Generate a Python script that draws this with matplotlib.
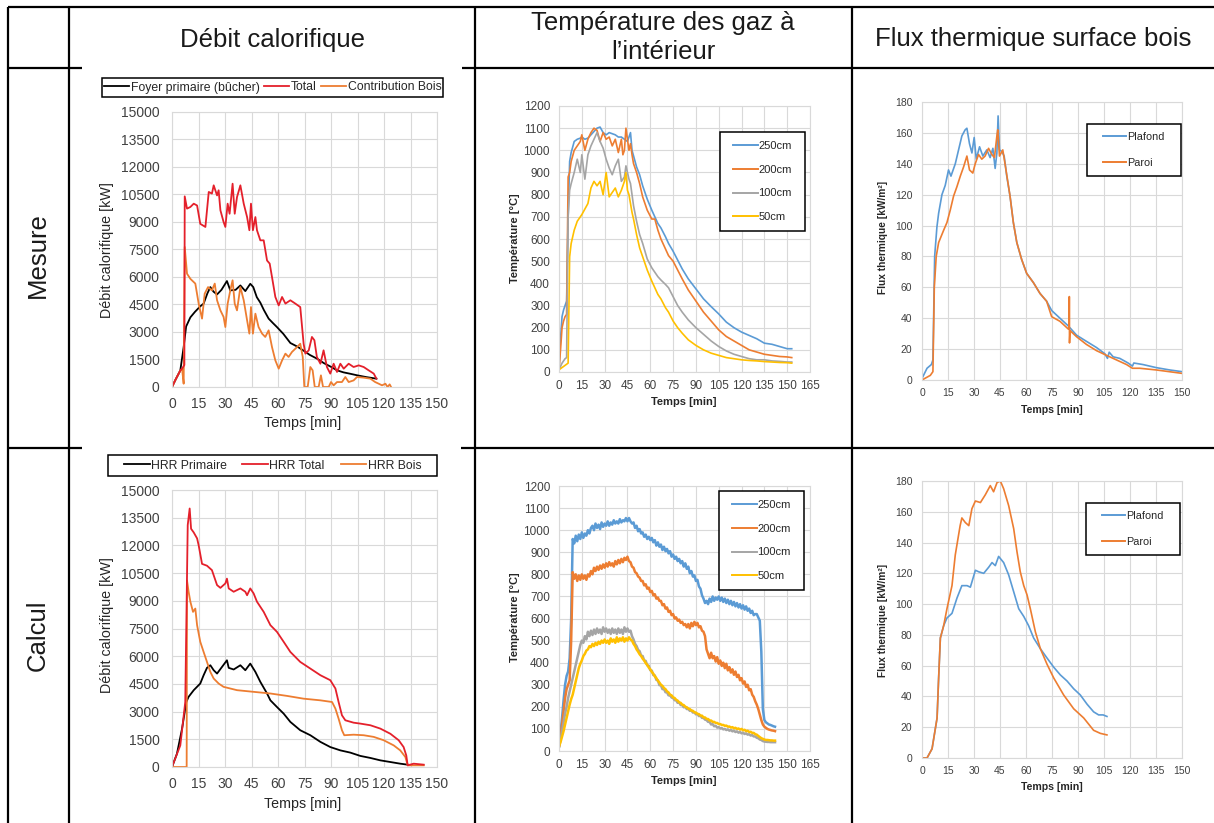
"""
Table of six fire-test charts: measured (Mesure) vs computed (Calcul) heat release,
gas temperatures and heat flux on the wood surface.
"""

import matplotlib

matplotlib.use("Agg")

import matplotlib.pyplot as plt
import numpy as np
from matplotlib.lines import Line2D
from matplotlib.patches import Rectangle

plt.rcParams["font.family"] = ["Liberation Sans", "DejaVu Sans"]

FIG_W, FIG_H = 1214, 823

BLUE = "#5B9BD5"
ORANGE = "#ED7D31"
GRAY = "#A5A5A5"
YELLOW = "#FFC000"
RED = "#E4202B"
GRID = "#D9D9D9"
TICK = "#404040"

# ---- Mesure : débit calorifique [kW] ----
mes_primaire_t = [0, 2, 4.7, 6.6, 8, 10.4, 13, 16, 17.9, 20, 21.7, 23.5, 25.5, 28, 31.1, 33, 36,
                  38.7, 41.5, 44.3, 46, 48, 50, 52, 54.7, 57, 59.4, 63, 67, 71, 75, 78, 82, 86,
                  90, 93.4, 97, 101, 104.7, 110, 115.7]
mes_primaire = [0, 400, 900, 2180, 3300, 3800, 4100, 4400, 4550, 5100, 5450, 5200, 5050, 5300,
                5780, 5270, 5300, 5540, 5230, 5630, 5450, 4900, 4600, 4200, 3730, 3500, 3270,
                2900, 2400, 2200, 1950, 1750, 1550, 1300, 1100, 910, 800, 720, 640, 540, 455]

mes_total_t = [0, 2, 4.7, 5.7, 7.0, 7.2, 8.5, 10.4, 12.3, 14.2, 16, 18.9, 20.8, 22.6, 23.6, 25.5,
               26.4, 27.4, 29.2, 30.2, 31.5, 32.6, 34.3, 35.5, 36.8, 38.7, 40.6, 42.5, 43.8,
               44.7, 45.8, 47.2, 48.1, 50, 51.9, 53.8, 55.3, 56.6, 58.5, 60.4, 62.3, 64.2, 67,
               69.8, 72.6, 74.5, 75.5, 77.4, 79.2, 80.6, 82, 84, 85.8, 87.7, 89.6, 91.5, 93.4,
               95.3, 97.2, 100, 102.8, 105.7, 108.5, 111.3, 114.2, 115.7]
mes_total = [0, 400, 900, 1000, 1200, 10400, 9730, 9820, 10000, 9900, 8900, 8730, 10640, 10550,
             11000, 10450, 10730, 9640, 9000, 8730, 10000, 9450, 11090, 9450, 10360, 11000,
             10000, 9270, 8550, 10000, 8550, 9270, 8550, 8000, 8000, 6900, 6730, 6000, 4910,
             4450, 4910, 4550, 4730, 4550, 4360, 2360, 1820, 2000, 2730, 2550, 1640, 1270, 2000,
             1090, 730, 1270, 820, 1270, 1000, 1270, 1090, 1180, 1090, 910, 730, 455]

mes_bois_t = [0, 2, 4.7, 5.7, 6.6, 7.2, 8.5, 10.4, 13.2, 15.1, 17, 18.5, 20.4, 22.6, 24.2, 25.5,
              27.4, 29.2, 30.2, 31.5, 33, 34.3, 35.5, 36.8, 38.7, 40.6, 42.5, 43.8, 44.7, 45.8,
              47.2, 49, 51, 52.8, 54.7, 56.6, 58.5, 60.4, 62.3, 64.2, 66, 67.9, 70.8, 72.6, 74,
              74.9, 76.8, 78.3, 79.6, 80.8, 83, 84.3, 85.5, 88.7, 90, 91.5, 93.4, 96.2, 98.1,
              100, 102.8, 104.7, 108.5, 112.3, 115, 117, 118.9, 120.8, 122, 123.2, 124]
mes_bois = [0, 400, 900, 1000, 180, 7640, 6180, 5900, 5640, 4545, 3730, 5090, 5450, 5270, 5640,
            4730, 4180, 3820, 3270, 4545, 5270, 5820, 4545, 4180, 5450, 4730, 3640, 2910, 4360,
            2910, 4000, 3270, 2910, 2730, 3090, 2180, 1450, 1000, 1450, 1820, 1640, 1910, 2180,
            2360, 1640, 0, 0, 1090, 910, 0, 0, 636, 0, 0, 270, 90, 270, 270, 545, 270, 360, 545,
            510, 455, 270, 180, 90, 180, 0, 145, 0]

# ---- Mesure : température des gaz [°C] ----
mes_temp_t = [0, 1, 2, 3, 4, 5, 6, 7, 8, 10, 12, 14, 15, 17, 19, 21, 23, 25, 27, 29, 31, 33, 35,
              37, 39, 41, 42, 43, 44, 45, 46, 47, 48, 49, 51, 53, 55, 58, 61, 63, 65, 67, 70,
              72, 75, 78, 81, 85, 90, 95, 100, 105, 110, 115, 120, 125, 130, 135, 140, 145, 150,
              153]
mes_250 = [10, 150, 250, 280, 300, 320, 700, 950, 990, 1040, 1050, 1055, 1060, 1050, 1055, 1070,
           1085, 1100, 1105, 1080, 1070, 1080, 1075, 1070, 1060, 1060, 1055, 1050, 1045, 1040,
           1060, 1080, 1000, 975, 925, 890, 840, 780, 730, 700, 670, 650, 610, 580, 545, 505,
           465, 420, 375, 330, 295, 262, 225, 200, 180, 165, 150, 130, 125, 115, 105, 105]
mes_200 = [10, 100, 200, 230, 250, 260, 880, 900, 950, 1000, 1020, 1040, 1070, 1000, 1050, 1080,
           1100, 1090, 1040, 1080, 1050, 1060, 1020, 1050, 990, 1050, 980, 1000, 1100, 1050,
           1000, 1030, 980, 940, 900, 850, 790, 730, 690, 690, 640, 600, 555, 525, 500, 460,
           420, 370, 320, 270, 230, 190, 160, 140, 120, 100, 90, 80, 75, 70, 68, 65]
mes_100 = [10, 25, 40, 50, 60, 65, 700, 820, 850, 900, 960, 900, 980, 870, 980, 1020, 1050,
           1080, 1040, 1010, 960, 920, 890, 930, 960, 860, 870, 880, 930, 900, 870, 850, 800,
           750, 680, 620, 580, 510, 470, 450, 430, 415, 395, 380, 340, 300, 270, 235, 200, 170,
           140, 115, 95, 80, 70, 60, 55, 55, 50, 48, 45, 45]
mes_50 = [10, 15, 20, 25, 30, 35, 40, 520, 580, 640, 680, 700, 710, 735, 760, 830, 860, 840,
          860, 800, 900, 790, 810, 830, 790, 820, 840, 860, 900, 820, 800, 760, 720, 690, 620,
          560, 520, 460, 410, 380, 350, 330, 290, 270, 230, 200, 175, 145, 120, 100, 85, 75, 65,
          60, 55, 52, 50, 47, 45, 43, 42, 40]

# ---- Mesure : flux thermique [kW/m²] ----
mes_plafond_t = [0, 2.9, 5.4, 6.3, 7.3, 8.6, 9.6, 11.5, 13.4, 15.3, 16.7, 19.2, 21.1, 23, 24.9,
                 25.9, 27.4, 28.8, 30.1, 31.3, 33.2, 35.1, 37.4, 39.3, 40.9, 42.2, 43.2, 43.9,
                 44.7, 46, 47.4, 48.9, 50.8, 52.7, 54.7, 57.5, 60.4, 64.3, 68.1, 71.9, 74.8,
                 79.6, 84.4, 89.2, 94.9, 100.7, 105.5, 107, 108, 110.3, 114.1, 118.9, 121.4,
                 122.2, 127.5, 135.2, 142.9, 150]
mes_plafond = [1, 7.6, 10, 13, 80, 99, 108, 120, 126, 136, 132, 140, 149, 158, 162, 163, 153,
               147, 157, 143, 151, 145, 149, 144, 150, 137, 147, 171, 149, 148, 145, 132, 119,
               102, 89, 78, 69, 63, 56, 51, 45, 40, 35, 29, 25, 21, 17, 14, 18, 15, 14, 11, 9,
               11, 10, 8, 6.5, 5.4]
mes_paroi_t = [0, 4.8, 6.3, 7.1, 8.2, 9.6, 12.5, 14.4, 16.3, 18.2, 20.1, 22.1, 24, 25.9, 27.4,
               29.3, 30.7, 32.6, 34.5, 36.4, 38.4, 40.3, 41.8, 43.2, 43.7, 44.7, 46.6, 47.9,
               50.8, 52.7, 54.7, 57.5, 60.4, 64.3, 68.1, 71.9, 74.8, 79.6, 84.4, 84.9, 85.0,
               85.1, 85.4, 89.2, 94.9, 100.7, 106.4, 112.2, 118, 121.4, 125.6, 135.2, 150]
mes_paroi = [0, 3, 5.4, 60, 80, 89, 97, 102, 110, 119, 125, 132, 138, 145, 136, 134, 140, 146,
             143, 145, 150, 146, 144, 158, 162, 145, 149, 140, 119, 102, 89, 78, 69, 63, 56, 51,
             41, 38, 33, 33, 54, 24, 32, 28, 23, 19, 16, 13, 10, 7.6, 7.6, 6.5, 4.3]

# ---- Calcul : débit calorifique [kW] ----
calc_primaire_t = [0, 2.8, 5.7, 8.1, 9.4, 12.3, 16, 17.9, 19.8, 21.7, 23.6, 25.5, 28.3, 31.1,
                   32.1, 34.9, 38.7, 41.5, 44.3, 47.2, 50, 53.8, 55.7, 59.4, 63.2, 67, 72.6,
                   78.3, 84, 89.6, 95.3, 100.9, 106.6, 112.3, 117.9, 123.6, 129.2, 133.4]
calc_primaire = [0, 720, 2080, 3520, 3800, 4160, 4520, 4970, 5370, 5510, 5240, 5060, 5420, 5780,
                 5370, 5280, 5510, 5240, 5600, 5150, 4610, 3980, 3610, 3250, 2890, 2440, 1990,
                 1720, 1360, 1080, 900, 780, 600, 490, 360, 270, 180, 126]
calc_total_t = [0, 2.8, 4.7, 7.5, 8.9, 10, 10.8, 12.3, 14.2, 15.1, 17, 19.8, 22.6, 25.5, 27.4,
                30.2, 31.1, 32.1, 34.9, 38.7, 41.5, 42.5, 44.3, 46.2, 48.1, 51.9, 55.7, 59.4,
                63.2, 67, 72.6, 78.3, 84, 89.6, 92.5, 94.3, 96.2, 98.1, 102.8, 106.6, 112.3,
                117.9, 123.6, 128.3, 131.1, 132.6, 133.4, 136.8, 142.5]
calc_total = [0, 700, 1170, 3520, 13100, 14000, 12900, 12700, 12380, 12000, 11000, 10900, 10660,
              9850, 9700, 9940, 10200, 9670, 9490, 9670, 9490, 9300, 9670, 9400, 8950, 8400,
              7680, 7320, 6780, 6230, 5690, 5330, 4970, 4700, 4250, 3520, 2800, 2530, 2400,
              2350, 2260, 2080, 1800, 1450, 1080, 630, 90, 180, 126]
calc_bois_t = [0, 8.3, 8.5, 9.4, 10.4, 11.9, 13.2, 14.2, 16, 17.9, 19.8, 21.7, 23.6, 26.4, 29.2,
               36.8, 46.2, 55.7, 65.1, 74.5, 84, 90.6, 92.5, 94.3, 96.2, 97.5, 102.8, 108.5,
               114.2, 119.8, 125.5, 129.2, 132.1, 133.4, 142.5]
calc_bois = [0, 0, 10100, 9490, 8950, 8400, 8580, 7680, 6780, 6230, 5690, 5150, 4790, 4520,
             4340, 4160, 4070, 3980, 3850, 3700, 3610, 3520, 3160, 2620, 1990, 1720, 1750, 1720,
             1630, 1450, 1170, 900, 540, 90, 90]

# ---- Calcul : température des gaz [°C], one value per minute ----
calc_temp_t = np.arange(0, 143)
calc_250 = [20, 80, 150, 230, 300, 340, 360, 420, 600, 960,
            940, 975, 950, 980, 960, 990, 965, 985, 975, 1000,
            985, 1010, 1020, 1000, 1030, 1010, 1025, 1005, 1035, 1015,
            1030, 1020, 1040, 1020, 1035, 1025, 1045, 1030, 1040, 1030,
            1050, 1035, 1045, 1040, 1055, 1040, 1055, 1040, 1030, 1035,
            1010, 1020, 995, 1005, 985, 990, 970, 980, 960, 970,
            955, 965, 945, 955, 930, 945, 925, 935, 910, 925,
            905, 915, 895, 905, 880, 890, 870, 880, 860, 870,
            850, 860, 835, 850, 825, 835, 805, 815, 790, 795,
            770, 775, 745, 735, 705, 690, 670, 680, 665, 690,
            675, 700, 680, 695, 685, 700, 680, 695, 675, 690,
            670, 685, 665, 680, 660, 675, 655, 670, 650, 665,
            645, 660, 640, 655, 635, 645, 625, 635, 615, 620,
            620, 605, 590, 450, 190, 140, 130, 125, 120, 118,
            115, 112, 110]
calc_200 = [20, 60, 120, 180, 240, 280, 300, 320, 500, 810,
            780, 800, 770, 795, 775, 800, 780, 795, 775, 800,
            790, 815, 800, 830, 815, 835, 820, 840, 825, 845,
            830, 850, 835, 855, 840, 850, 835, 860, 845, 865,
            850, 870, 855, 875, 865, 880, 860, 855, 835, 830,
            810, 805, 790, 785, 770, 770, 750, 755, 735, 740,
            720, 725, 705, 710, 690, 695, 680, 680, 660, 665,
            645, 650, 630, 635, 615, 620, 600, 605, 590, 595,
            580, 585, 570, 575, 560, 575, 555, 580, 565, 585,
            570, 580, 560, 565, 545, 540, 520, 460, 440, 420,
            445, 420, 430, 405, 425, 395, 410, 385, 400, 375,
            395, 365, 380, 355, 370, 345, 360, 335, 345, 320,
            330, 305, 315, 290, 300, 275, 280, 255, 245, 225,
            210, 190, 165, 140, 120, 110, 105, 100, 97, 95,
            93, 92, 90]
calc_100 = [20, 50, 90, 130, 170, 200, 240, 270, 300, 330,
            360, 390, 420, 450, 480, 500, 490, 520, 505, 540,
            520, 545, 525, 550, 530, 555, 535, 550, 530, 560,
            540, 555, 535, 550, 530, 555, 535, 550, 530, 555,
            535, 550, 530, 560, 540, 555, 540, 545, 520, 505,
            485, 475, 458, 452, 432, 430, 410, 408, 388, 386,
            366, 364, 344, 342, 322, 320, 298, 298, 280, 282,
            266, 266, 252, 254, 242, 240, 230, 230, 218, 220,
            208, 208, 198, 200, 190, 190, 182, 184, 174, 176,
            166, 168, 158, 160, 150, 150, 142, 140, 132, 132,
            120, 122, 112, 114, 106, 108, 102, 104, 98, 100,
            95, 98, 92, 95, 89, 92, 86, 89, 83, 86,
            80, 83, 77, 80, 74, 76, 70, 72, 66, 66,
            60, 58, 52, 50, 45, 43, 42, 41, 41, 40,
            40, 40, 40]
calc_50 = [20, 40, 65, 90, 120, 150, 180, 210, 235, 255,
           285, 315, 345, 375, 395, 410, 430, 440, 455, 460,
           475, 470, 485, 475, 490, 480, 495, 485, 500, 490,
           505, 490, 500, 485, 510, 495, 505, 490, 515, 495,
           510, 500, 515, 495, 510, 500, 515, 505, 500, 485,
           475, 460, 450, 438, 430, 418, 410, 398, 390, 378,
           370, 358, 350, 338, 330, 318, 310, 300, 295, 285,
           280, 270, 265, 255, 252, 243, 240, 232, 228, 220,
           218, 210, 208, 200, 198, 192, 190, 183, 182, 175,
           174, 168, 167, 160, 160, 152, 152, 145, 145, 138,
           138, 132, 132, 127, 127, 122, 122, 118, 118, 114,
           115, 110, 111, 106, 108, 103, 105, 100, 102, 97,
           100, 94, 96, 90, 92, 86, 87, 82, 82, 76,
           74, 68, 63, 58, 55, 52, 50, 50, 49, 48,
           48, 47, 47]

# ---- Calcul : flux thermique [kW/m²] ----
calc_plafond_t = [0, 2.9, 5.8, 8.7, 9.6, 10.6, 12.5, 14.4, 17.3, 20.2, 23, 26, 27.9, 30.8, 32.7,
                  35.6, 38.5, 40.4, 42.3, 44.2, 47.1, 50, 52.9, 55.8, 58.7, 61.5, 64.4, 68.3,
                  72.1, 76, 79.8, 83.7, 87.5, 91.3, 95.2, 99, 101.9, 104.5, 106.7]
calc_plafond = [0, 0, 6, 26, 52, 78, 86, 91, 94, 104, 112, 112, 111, 122, 121, 120, 124, 127,
                125, 131, 127, 119, 108, 97, 92, 86, 78, 71, 65, 59, 54, 50, 45, 41, 35, 30, 28,
                28, 27]
calc_paroi_t = [0, 2.9, 5.8, 8.7, 9.6, 10.6, 12.5, 14.4, 17.3, 19.2, 22, 23, 25, 27, 28.8, 30.8,
                33.7, 36.5, 39.4, 41.3, 43.3, 45.2, 47.1, 50, 52.9, 54.8, 56.7, 58.7, 60.6, 62.5,
                65.4, 68.3, 72.1, 76, 81.7, 87.5, 93.3, 99, 102.9, 106.7]
calc_paroi = [0, 0, 6, 26, 52, 78, 86, 97, 112, 132, 151, 156, 153, 151, 162, 167, 166, 171, 177,
              173, 179, 180, 175, 164, 149, 134, 121, 112, 106, 97, 82, 71, 61, 52, 41, 32, 26,
              18, 16, 15]

headers = ["Débit calorifique", "Température des gaz à", "l\u2019intérieur",
           "Flux thermique surface bois"]
row_labels = ["Mesure", "Calcul"]


def fx(px):
    return px / FIG_W


def fy(py):
    return 1 - py / FIG_H


def add_axes(fig, x0, y0, x1, y1):
    return fig.add_axes([fx(x0), fy(y1), (x1 - x0) / FIG_W, (y1 - y0) / FIG_H])


def style(ax, xmax, xstep, ymax, ystep, size, xpad, ypad):
    ax.set_xlim(0, xmax)
    ax.set_ylim(0, ymax)
    ax.set_xticks(np.arange(0, xmax + 1, xstep))
    ax.set_yticks(np.arange(0, ymax + 1, ystep))
    ax.grid(True, color=GRID, lw=0.8)
    ax.set_axisbelow(True)
    for s in ax.spines.values():
        s.set_color(GRID)
        s.set_linewidth(0.8)
    ax.tick_params(length=0, labelsize=size, colors=TICK)
    ax.tick_params(axis="x", pad=xpad)
    ax.tick_params(axis="y", pad=ypad)


def framed_legend(fig, handles, labels, box, ncol, size, **kw):
    x0, y0, x1, y1 = box
    fig.add_artist(Rectangle((fx(x0), fy(y1)), (x1 - x0) / FIG_W, (y1 - y0) / FIG_H,
                             transform=fig.transFigure, fc="white", ec="black", lw=1.1,
                             zorder=4))
    fig.legend(handles, labels, loc="center",
               bbox_to_anchor=(fx((x0 + x1) / 2), fy((y0 + y1) / 2)),
               ncol=ncol, frameon=False, fontsize=size, borderpad=0, borderaxespad=0,
               labelcolor="#262626", **kw)


def hline(fig, y, x0, x1):
    fig.add_artist(Line2D([fx(x0), fx(x1)], [fy(y), fy(y)], transform=fig.transFigure,
                          color="black", lw=1.6, solid_capstyle="butt"))


def vline(fig, x, y0, y1):
    fig.add_artist(Line2D([fx(x), fx(x)], [fy(y0), fy(y1)], transform=fig.transFigure,
                          color="black", lw=1.6, solid_capstyle="butt"))


def hrr_chart(fig, box, primaire, total, bois, leg_labels, leg_box, colspace,
              ylabel_y, xlabel_y):
    ax = add_axes(fig, *box)
    (l_prim,) = ax.plot(*primaire, color="black", lw=1.3)
    (l_bois,) = ax.plot(*bois, color=ORANGE, lw=1.3)
    (l_tot,) = ax.plot(*total, color=RED, lw=1.3)
    style(ax, 150, 15, 15000, 1500, 10, 7, 9)
    fig.text(fx(107), fy(ylabel_y), "Débit calorifique [kW]", rotation=90, fontsize=10.3,
             ha="center", va="center", color="#262626")
    fig.text(fx(303), fy(xlabel_y), "Temps [min]", fontsize=10.3, ha="center", va="center",
             color="#262626")
    framed_legend(fig, [l_prim, l_tot, l_bois], leg_labels, leg_box, 3, 8.8,
                  handlelength=2.1, handletextpad=0.1, columnspacing=colspace)


def temp_chart(fig, box, t_list, series, leg_box, ylabel_y, xlabel_y, lw):
    ax = add_axes(fig, *box)
    lines = []
    for t, v, c in zip(t_list, series, [BLUE, ORANGE, GRAY, YELLOW]):
        (ln,) = ax.plot(t, v, color=c, lw=lw)
        lines.append(ln)
    style(ax, 165, 15, 1200, 100, 8.5, 6, 6.5)
    fig.text(fx(515), fy(ylabel_y), "Température [°C]", rotation=90, fontsize=8,
             fontweight="bold", ha="center", va="center", color="#262626")
    fig.text(fx(684), fy(xlabel_y), "Temps [min]", fontsize=8, fontweight="bold",
             ha="center", va="center", color="#262626")
    handles = [Line2D([], [], color=ln.get_color(), lw=1.4) for ln in lines]
    framed_legend(fig, handles, ["250cm", "200cm", "100cm", "50cm"], leg_box, 1, 8,
                  handlelength=2.2, handletextpad=0.05, labelspacing=1.25)


def flux_chart(fig, box, series, leg_box, ylabel_y, xlabel_y):
    ax = add_axes(fig, *box)
    lines = []
    for t, v, c in series:
        (ln,) = ax.plot(t, v, color=c, lw=1.2)
        lines.append(ln)
    style(ax, 150, 15, 180, 20, 7.5, 5.5, 7)
    fig.text(fx(883), fy(ylabel_y), "Flux thermique [kW/m²]", rotation=90, fontsize=7.3,
             fontweight="bold", ha="center", va="center", color="#262626")
    fig.text(fx(1052), fy(xlabel_y), "Temps [min]", fontsize=7.6, fontweight="bold",
             ha="center", va="center", color="#262626")
    handles = [Line2D([], [], color=ln.get_color(), lw=1.4) for ln in lines]
    framed_legend(fig, handles, ["Plafond", "Paroi"], leg_box, 1, 7.8,
                  handlelength=2.1, handletextpad=0.15, labelspacing=1.45)


def main():
    fig = plt.figure(figsize=(FIG_W / 100, FIG_H / 100), dpi=100)

    # ---- Table grid ----
    hline(fig, 7, 8, FIG_W)
    hline(fig, 68, 8, 82)
    hline(fig, 68, 462, FIG_W)
    hline(fig, 448, 8, 82)
    hline(fig, 448, 461, FIG_W)
    for x in (8, 69, 475, 852):
        vline(fig, x, 7, FIG_H)

    head_kw = dict(fontsize=18.5, ha="center", va="baseline", color="#1a1a1a")
    fig.text(fx(272), fy(47), headers[0], **head_kw)
    fig.text(fx(663), fy(30), headers[1], **head_kw)
    fig.text(fx(663), fy(59), headers[2], **head_kw)
    fig.text(fx(1033), fy(46), headers[3], **head_kw)
    fig.text(fx(38), fy(255), row_labels[0], rotation=90, fontsize=18.5, ha="center",
             va="center", color="#1a1a1a")
    fig.text(fx(38), fy(635), row_labels[1], rotation=90, fontsize=18.5, ha="center",
             va="center", color="#1a1a1a")

    # ---- Mesure ----
    hrr_chart(fig, (172, 112, 437, 387),
              (mes_primaire_t, mes_primaire), (mes_total_t, mes_total),
              (mes_bois_t, mes_bois),
              ["Foyer primaire (bûcher)", "Total", "Contribution Bois"],
              (102, 78, 443, 97), 0.35, 250, 423)
    temp_chart(fig, (559, 106, 810, 372), [mes_temp_t] * 4,
               [mes_250, mes_200, mes_100, mes_50], (720, 132, 805, 231), 238, 402, 1.2)
    flux_chart(fig, (922, 102, 1182, 380),
               [(mes_plafond_t, mes_plafond, BLUE), (mes_paroi_t, mes_paroi, ORANGE)],
               (1087, 124, 1181, 176), 237, 410)

    # ---- Calcul ----
    hrr_chart(fig, (172, 490, 437, 767),
              (calc_primaire_t, calc_primaire), (calc_total_t, calc_total),
              (calc_bois_t, calc_bois),
              ["HRR Primaire", "HRR Total", "HRR Bois"],
              (108, 455, 437, 476), 1.3, 625, 804)
    temp_chart(fig, (559, 486, 810, 751), [calc_temp_t] * 4,
               [calc_250, calc_200, calc_100, calc_50], (719, 491, 804, 590), 617, 781, 1.8)
    flux_chart(fig, (922, 481, 1182, 758),
               [(calc_plafond_t, calc_plafond, BLUE), (calc_paroi_t, calc_paroi, ORANGE)],
               (1086, 503, 1180, 555), 620, 787)

    fig.savefig("out.png", dpi=100)
    print("Saved plot to out.png")


if __name__ == "__main__":
    main()
